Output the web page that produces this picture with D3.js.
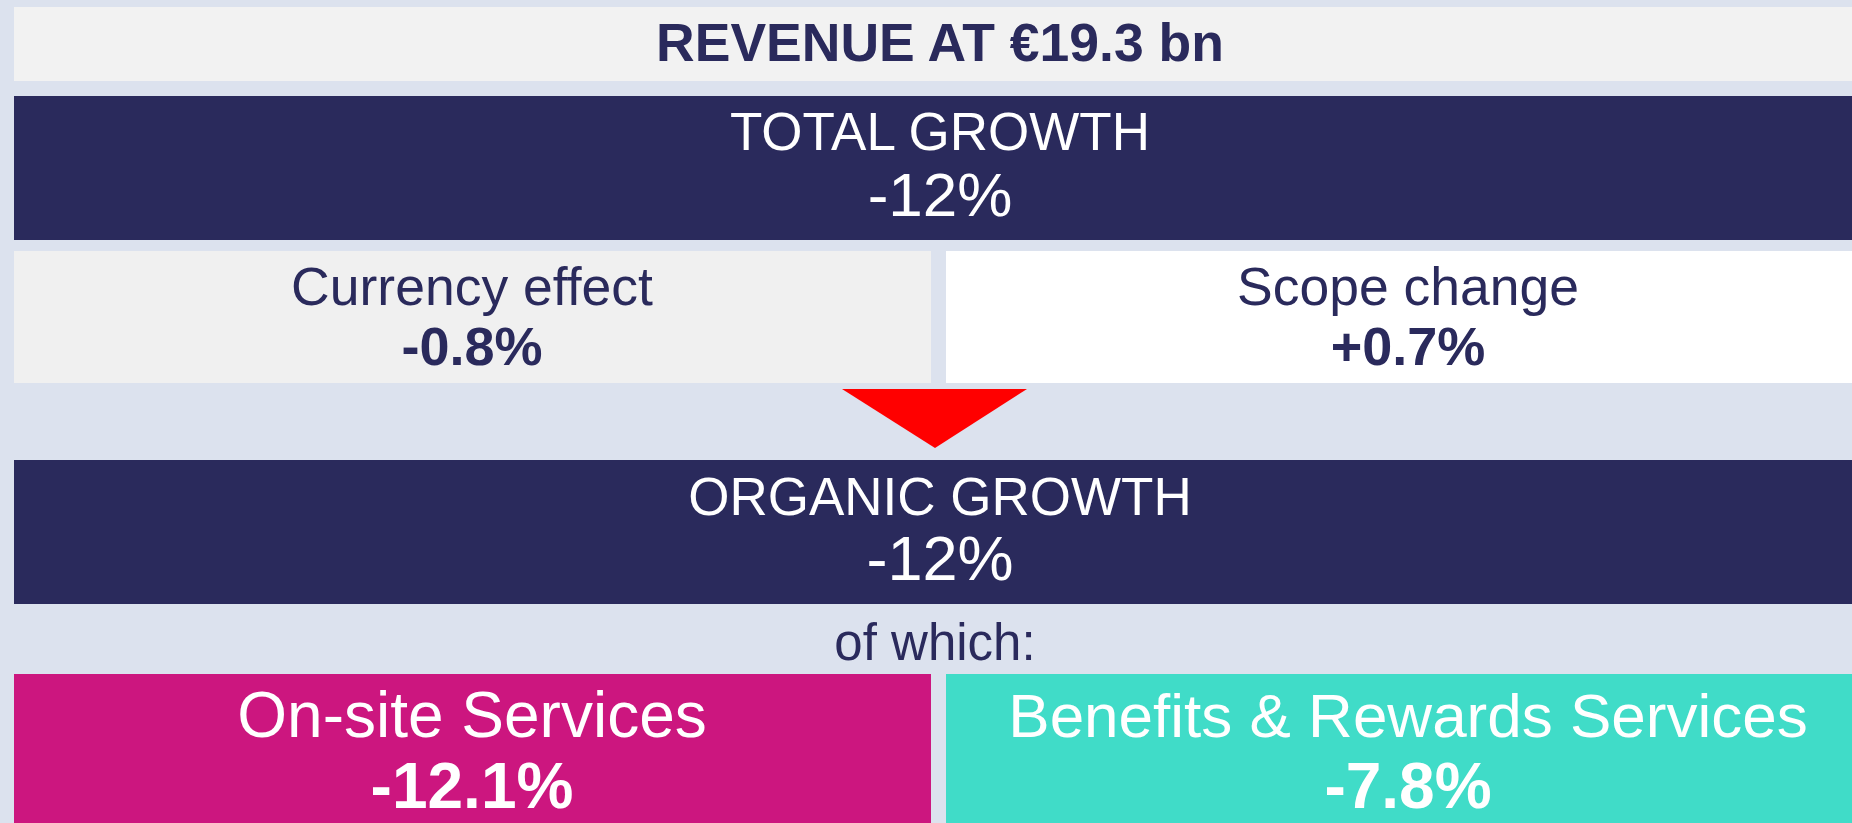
<!DOCTYPE html>
<html>
<head>
<meta charset="utf-8">
<script src="https://cdn.jsdelivr.net/npm/d3@7"></script>
<style>
	html, body { margin: 0; padding: 0; background: #dce2ee; overflow: hidden; }
	text { font-family: "Liberation Sans", Arial, sans-serif; }
</style>
</head>
<body>
<div id="chart"></div>
<script>
//revenue bridge figures
var revenueTitle = "REVENUE AT €19.3 bn";
var totalLabel = "TOTAL GROWTH";
var totalValue = "-12%";
var effectLabels = ["Currency effect", "Scope change"];
var effectValues = ["-0.8%", "+0.7%"];
var organicLabel = "ORGANIC GROWTH";
var organicValue = "-12%";
var ofWhich = "of which:";
var segmentLabels = ["On-site Services", "Benefits & Rewards Services"];
var segmentValues = ["-12.1%", "-7.8%"];

var width = 1852, height = 823;
var navy = '#2a2a5c';
var m = { left: 14 };

var svg = d3.select('#chart').append('svg')
	.attr('width', width)
	.attr('height', height);

svg.append('rect')
	.attr('width', width)
	.attr('height', height)
	.style('fill', '#dce2ee');

//two column band scale, right column runs off the page
var xScale = d3.scaleBand()
	.domain([0, 1])
	.range([m.left, m.left + 2 * 932 - 15])
	.paddingInner(15 / 932)
	.paddingOuter(0);

var fullWidth = width - m.left;
var colCenter = [472, 1408]; //text centres, boxes run off the right edge
var cx = 940;

//full width blocks
function fullBlock(y0, y1, fill) {
	svg.append('rect')
		.attr('x', m.left)
		.attr('y', y0)
		.attr('width', fullWidth)
		.attr('height', y1 - y0)
		.style('fill', fill);
}

function label(x, y, txt, size, weight, color) {
	svg.append('text')
		.attr('x', x)
		.attr('y', y)
		.attr('text-anchor', 'middle')
		.style('font-size', size + 'px')
		.style('font-weight', weight)
		.style('fill', color)
		.text(txt);
}

//header
fullBlock(7, 81, '#f2f2f2');
label(cx, 61, revenueTitle, 53.5, 'bold', navy);

//total growth
fullBlock(96, 240, navy);
label(cx, 150, totalLabel, 53, 'normal', '#fff');
label(cx, 216, totalValue, 62, 'normal', '#fff');

//currency / scope row
var effectFill = ['#f0f0f0', '#ffffff'];
var effects = svg.selectAll('.effect')
	.data(effectLabels.map(function(d, i) { return { label: d, value: effectValues[i], i: i }; }))
	.enter().append('g')
	.attr('class', 'effect');

effects.append('rect')
	.attr('x', function(d) { return xScale(d.i); })
	.attr('y', 251)
	.attr('width', xScale.bandwidth())
	.attr('height', 383 - 251)
	.style('fill', function(d) { return effectFill[d.i]; });

effects.append('text')
	.attr('x', function(d) { return colCenter[d.i]; })
	.attr('y', 305)
	.attr('text-anchor', 'middle')
	.style('font-size', '53.5px')
	.style('fill', navy)
	.text(function(d) { return d.label; });

effects.append('text')
	.attr('x', function(d) { return colCenter[d.i]; })
	.attr('y', 365)
	.attr('text-anchor', 'middle')
	.style('font-size', '54px')
	.style('font-weight', 'bold')
	.style('fill', navy)
	.text(function(d) { return d.value; });

//arrow
svg.append('path')
	.attr('d', d3.line()([[842, 389], [1027, 389], [935, 448]]) + 'Z')
	.style('fill', '#ff0000');

//organic growth
fullBlock(460, 604, navy);
label(cx, 515, organicLabel, 53, 'normal', '#fff');
label(cx, 580, organicValue, 63, 'normal', '#fff');

label(935, 660, ofWhich, 51, 'normal', navy);

//segments
var segFill = ['#cc167f', '#40dcc8'];
var segSize = [64, 62];
var segs = svg.selectAll('.segment')
	.data(segmentLabels.map(function(d, i) { return { label: d, value: segmentValues[i], i: i }; }))
	.enter().append('g')
	.attr('class', 'segment');

segs.append('rect')
	.attr('x', function(d) { return xScale(d.i); })
	.attr('y', 674)
	.attr('width', xScale.bandwidth())
	.attr('height', height - 674)
	.style('fill', function(d) { return segFill[d.i]; });

segs.append('text')
	.attr('x', function(d) { return colCenter[d.i]; })
	.attr('y', 737)
	.attr('text-anchor', 'middle')
	.style('font-size', function(d) { return segSize[d.i] + 'px'; })
	.style('fill', '#fff')
	.text(function(d) { return d.label; });

segs.append('text')
	.attr('x', function(d) { return colCenter[d.i]; })
	.attr('y', 808)
	.attr('text-anchor', 'middle')
	.style('font-size', '64px')
	.style('font-weight', 'bold')
	.style('fill', '#fff')
	.text(function(d) { return d.value; });
</script>
</body>
</html>
